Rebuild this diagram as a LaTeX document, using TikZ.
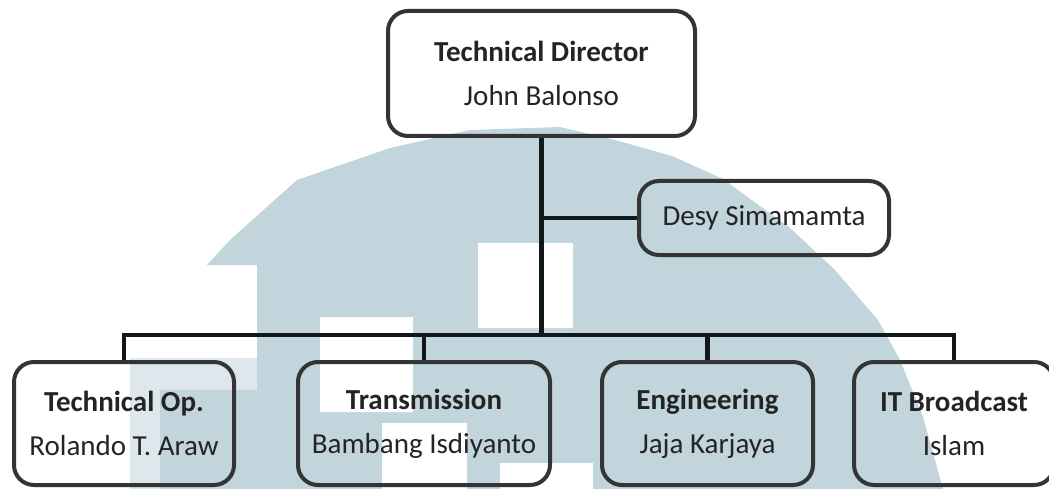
\documentclass[tikz,border=0pt]{standalone}
\usepackage{fontspec}
\setmainfont{Carlito}
\usepackage{xcolor}
\definecolor{wmblue}{RGB}{194,212,220}
\definecolor{boxgray}{RGB}{52,52,52}
\definecolor{linedark}{RGB}{16,24,28}
\definecolor{txtgray}{RGB}{36,36,36}

\begin{document}
\begin{tikzpicture}[x=1pt,y=-1pt,
  box/.style={draw=boxgray,line width=4pt,rounded corners=20pt,align=center,text=txtgray,font=\fontsize{29}{44}\selectfont,inner sep=0pt},
  conn/.style={draw=linedark,line width=4.5pt}]
\useasboundingbox (0,0) rectangle (1049,489);

\fill[wmblue] (257,489) -- (257,265) -- (207,265) -- (230,240) -- (297,180) -- (390,148) -- (470,130) -- (560,127) -- (615,140) -- (672,156) -- (723,179) -- (790,228) -- (834,269) -- (878,320) -- (900,360) -- (923,417) -- (943,489) -- cycle;
\fill[wmblue!55] (130,358) rectangle (257,489);
\fill[wmblue] (160,390) rectangle (257,489);
\fill[white] (478,243) rectangle (573,328) (320,317) rectangle (413,412) (382,423) rectangle (467,489) (500,463) rectangle (593,489);

\node (dir) at (541.5,73.5) [box,minimum width=307pt,minimum height=125pt] {\textbf{Technical Director}\\John Balonso};
\node (desy) at (764,218) [box,minimum width=250pt,minimum height=74pt] {Desy Simamamta};
\node (techop) at (124,423.5) [box,minimum width=220pt,minimum height=123pt] {\textbf{Technical Op.}\\Rolando T. Araw};
\node (trans) at (424,423.5) [box,minimum width=252pt,minimum height=123pt] {\textbf{Transmission}\\Bambang Isdiyanto};
\node (eng) at (707.5,423.5) [box,minimum width=211pt,minimum height=123pt] {\textbf{Engineering}\\Jaja Karjaya};
\node (itb) at (954,423.5) [box,minimum width=200pt,minimum height=123pt] {\textbf{IT Broadcast}\\Islam};
\coordinate (bus) at (541.5,335);

\draw[conn] (dir.south) -- (bus);
\draw[conn] (dir.south |- desy.west) -- (desy.west);
\draw[conn] (techop.north) |- (bus) -| (itb.north);
\draw[conn] (trans.north) -- (trans.north |- bus) (eng.north) -- (eng.north |- bus);

\end{tikzpicture}
\end{document}
